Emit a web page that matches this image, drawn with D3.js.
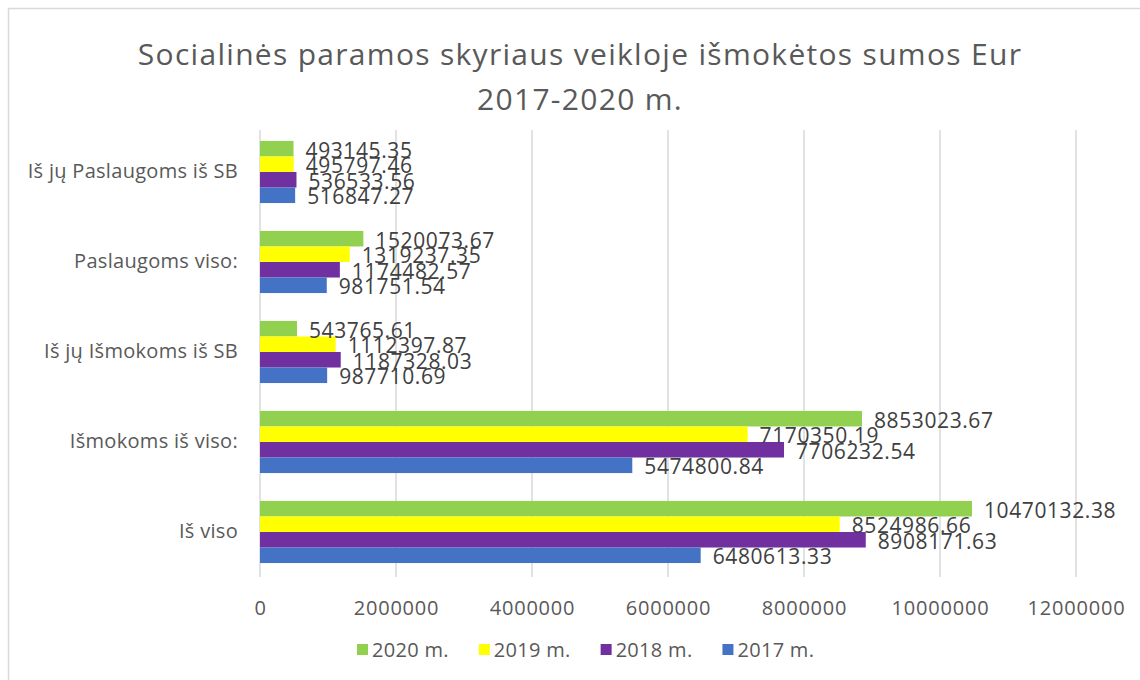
<!DOCTYPE html>
<html>
<head>
<meta charset="utf-8">
<script src="https://cdn.jsdelivr.net/npm/d3@7"></script>
<style>
  html, body { margin: 0; padding: 0; background: #fff; }
  svg { display: block; font-family: "Open Sans", sans-serif; }
</style>
</head>
<body>
<svg id="chart" width="1140" height="680"></svg>
<script>
// Categories from top to bottom
const categories = [
  "Iš jų Paslaugoms iš SB",
  "Paslaugoms viso:",
  "Iš jų Išmokoms iš SB",
  "Išmokoms iš viso:",
  "Iš viso"
];
const series = ["2020 m.", "2019 m.", "2018 m.", "2017 m."];
const values2020 = [493145.35, 1520073.67, 543765.61, 8853023.67, 10470132.38];
const values2019 = [495797.46, 1319237.35, 1112397.87, 7170350.19, 8524986.66];
const values2018 = [536533.56, 1174482.57, 1187328.03, 7706232.54, 8908171.63];
const values2017 = [516847.27, 981751.54, 987710.69, 5474800.84, 6480613.33];
const xTicks = [0, 2000000, 4000000, 6000000, 8000000, 10000000, 12000000];
const colors = ["#92d050", "#ffff00", "#7030a0", "#4472c4"];

const seriesValues = [values2020, values2019, values2018, values2017];
const rows = categories.map((c, i) => ({
  category: c,
  bars: series.map((s, j) => ({ series: s, value: seriesValues[j][i], color: colors[j] }))
}));

const svg = d3.select("#chart");
const textColor = "#595959";

// chart frame
svg.append("rect")
  .attr("x", 8.5).attr("y", 8.5)
  .attr("width", 1150).attr("height", 700)
  .attr("fill", "#fff")
  .attr("stroke", "#d9d9d9")
  .attr("stroke-width", 1.5);

// title
const title = svg.append("text")
  .attr("text-anchor", "middle")
  .attr("fill", textColor)
  .attr("font-size", 30)
  .style("letter-spacing", "1.3px");
title.append("tspan").attr("x", 580).attr("y", 65).text("Socialinės paramos skyriaus veikloje išmokėtos sumos Eur");
title.append("tspan").attr("x", 580).attr("y", 110).text("2017-2020 m.");

const x = d3.scaleLinear().domain([0, 12000000]).range([260, 1076]);
const y = d3.scaleBand().domain(categories).range([127, 577]).paddingInner(0.31).paddingOuter(0.155);
const yInner = d3.scaleBand().domain(series).range([0, y.bandwidth()]);

// gridlines
svg.append("g")
  .selectAll("line")
  .data(xTicks)
  .join("line")
  .attr("x1", d => x(d)).attr("x2", d => x(d))
  .attr("y1", 130).attr("y2", 577)
  .attr("stroke", "#d9d9d9")
  .attr("stroke-width", 1.5);

// x axis labels
const xAxis = svg.append("g")
  .attr("transform", "translate(0,598)")
  .call(d3.axisBottom(x).tickValues(xTicks).tickFormat(d3.format("d")).tickSize(0));
xAxis.select(".domain").remove();
xAxis.selectAll("text")
  .attr("fill", textColor)
  .attr("font-size", 20)
  .attr("font-family", "Open Sans, sans-serif")
  .style("letter-spacing", "0.8px");

// y axis labels
const yAxis = svg.append("g")
  .attr("transform", "translate(246,0)")
  .call(d3.axisLeft(y).tickSize(0).tickPadding(8));
yAxis.select(".domain").remove();
yAxis.selectAll("text")
  .attr("fill", textColor)
  .attr("font-size", 20)
  .attr("font-family", "Open Sans, sans-serif")
  .style("letter-spacing", "0.3px");

// bars
const group = svg.append("g")
  .selectAll("g")
  .data(rows)
  .join("g")
  .attr("transform", d => `translate(0,${y(d.category)})`);

group.selectAll("rect")
  .data(d => d.bars)
  .join("rect")
  .attr("x", x(0))
  .attr("y", d => yInner(d.series))
  .attr("width", d => x(d.value) - x(0))
  .attr("height", yInner.bandwidth())
  .attr("fill", d => d.color);

// value labels
group.selectAll("text")
  .data(d => d.bars)
  .join("text")
  .attr("x", d => x(d.value) + 12)
  .attr("y", d => yInner(d.series) + yInner.bandwidth() / 2 + 9)
  .attr("fill", "#404040")
  .attr("font-size", 21)
  .style("letter-spacing", "0.6px")
  .text(d => d3.format(".2f")(d.value));

// legend
const legend = svg.append("g").attr("transform", "translate(0,650)");
let lx = 357;
series.forEach((s, i) => {
  const item = legend.append("g").attr("transform", `translate(${lx},0)`);
  item.append("rect")
    .attr("x", 0).attr("y", -6)
    .attr("width", 11).attr("height", 11)
    .attr("fill", colors[i]);
  const t = item.append("text")
    .attr("x", 15).attr("y", 7)
    .attr("fill", textColor)
    .attr("font-size", 20)
    .style("letter-spacing", "0.3px")
    .text(s);
  lx += 15 + t.node().getComputedTextLength() + 30;
});
</script>
</body>
</html>
